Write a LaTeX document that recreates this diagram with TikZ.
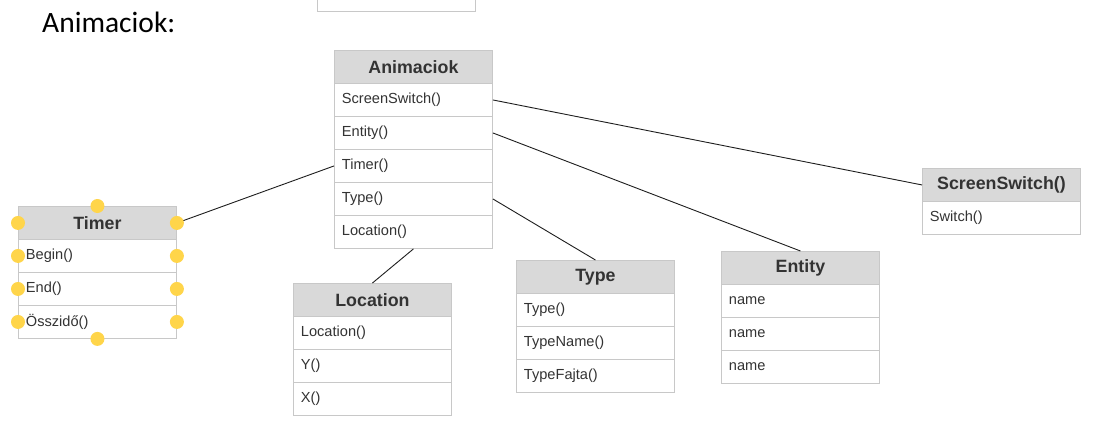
\documentclass[tikz,border=0pt]{standalone}
\usepackage{fontspec}
\setmainfont{Liberation Sans}
\newfontfamily\titlefont{Carlito}
\definecolor{boxline}{HTML}{C8C8C8}
\definecolor{hdrfill}{HTML}{D9D9D9}
\definecolor{txt}{HTML}{333333}
\definecolor{wire}{HTML}{1E1E1E}
\definecolor{handle}{HTML}{FFD54A}
\begin{document}
\begin{tikzpicture}[x=1pt,y=-1pt,
  hdr/.style={draw=boxline,fill=hdrfill,line width=0.9pt,minimum width=158pt,minimum height=33pt,
    inner sep=0pt,anchor=north west,text=txt,font=\bfseries\fontsize{17.8}{20}\selectfont},
  row/.style={draw=boxline,fill=white,line width=0.9pt,minimum height=33pt,text width=143pt,
    inner xsep=7.5pt,inner ysep=0pt,align=left,anchor=north west,text=txt,
    font=\fontsize{14.6}{16}\selectfont},
  link/.style={draw=wire,line width=0.9pt},
  dot/.style={circle,fill=handle,minimum size=14pt,inner sep=0pt}]
\useasboundingbox (0,0) rectangle (1106,428);
\fill[white] (0,0) rectangle (1106,428);

% title
\node[anchor=west,font=\titlefont\fontsize{29.5}{32}\selectfont,inner sep=0pt] (title) at (42,22) {Animaciok:};

% box running off the top edge
\node[draw=boxline,fill=white,line width=0.9pt,minimum width=158pt,minimum height=32pt,inner sep=0pt,anchor=south west] (topbox) at (317,12) {};

% Animaciok
\node[hdr] (anim) at (334,50) {Animaciok};
\node[row] (anim-ss) at (334,83) {ScreenSwitch()};
\node[row] (anim-ent) at (334,116) {Entity()};
\node[row] (anim-tim) at (334,149) {Timer()};
\node[row] (anim-typ) at (334,182) {Type()};
\node[row] (anim-loc) at (334,215) {Location()};

% Timer
\node[hdr] (timer) at (18,206) {Timer};
\node[row] (tim-begin) at (18,239) {Begin()};
\node[row] (tim-end) at (18,272) {End()};
\node[row] (tim-sum) at (18,305) {Összidő()};

% Location
\node[hdr] (loc) at (293,283) {Location};
\node[row] (loc-1) at (293,316) {Location()};
\node[row] (loc-2) at (293,349) {Y()};
\node[row] (loc-3) at (293,382) {X()};

% Type
\node[hdr] (typ) at (516,260) {Type};
\node[row] (typ-1) at (516,293) {Type()};
\node[row] (typ-2) at (516,326) {TypeName()};
\node[row] (typ-3) at (516,359) {TypeFajta()};

% Entity
\node[hdr] (ent) at (721,251) {Entity};
\node[row] (ent-1) at (721,284) {name};
\node[row] (ent-2) at (721,317) {name};
\node[row] (ent-3) at (721,350) {name};

% ScreenSwitch()
\node[hdr] (ss) at (922,168) {ScreenSwitch()};
\node[row] (ss-1) at (922,201) {Switch()};

% connectors
\draw[link] (anim-ss.east) -- (ss.west);
\draw[link] (anim-ent.east) -- (ent.north);
\draw[link] (anim-typ.east) -- (typ.north);
\draw[link] (anim-loc.south) -- (loc.north);
\draw[link] (anim-tim.west) -- (timer.east);

% selection handles on Timer
\node[dot] (h-top) at (timer.north) {};
\node[dot] (h-bot) at (tim-sum.south) {};
\foreach \c in {timer,tim-begin,tim-end,tim-sum}{
  \node[dot] (hl-\c) at (\c.west) {};
  \node[dot] (hr-\c) at (\c.east) {};
}
\end{tikzpicture}
\end{document}
